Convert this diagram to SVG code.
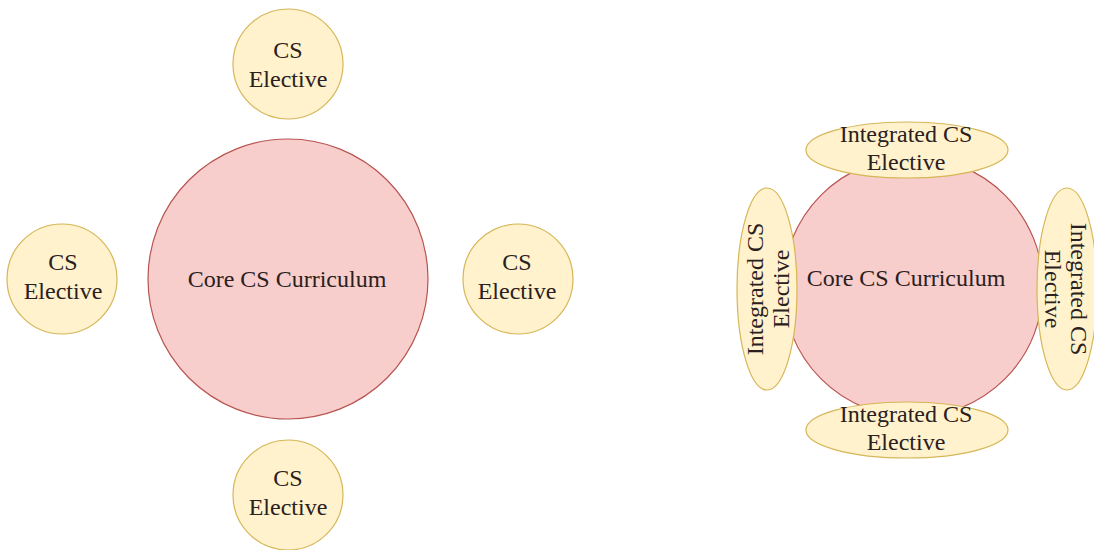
<svg xmlns="http://www.w3.org/2000/svg" width="1094" height="550" viewBox="0 0 1094 550">
<style>
.core{fill:#f8cecc;stroke:#b85450;stroke-width:1.2}
.el{fill:#fff2cc;stroke:#d6b656;stroke-width:1.2}
text{font-family:"Liberation Serif","Times New Roman",serif;font-size:24px;fill:#2a2020;text-anchor:middle}
</style>
<rect width="1094" height="550" fill="#fff"/>
<g id="core-left"><circle class="core" cx="288" cy="279" r="140"/><text x="287" y="287">Core CS Curriculum</text></g>
<g id="el-top"><circle class="el" cx="288" cy="64" r="55"/><text x="288" y="58">CS</text><text x="288" y="87">Elective</text></g>
<g id="el-left"><circle class="el" cx="62" cy="279" r="55"/><text x="63" y="270">CS</text><text x="63" y="299">Elective</text></g>
<g id="el-right"><circle class="el" cx="518" cy="279" r="55"/><text x="517" y="270">CS</text><text x="517" y="299">Elective</text></g>
<g id="el-bottom"><circle class="el" cx="288" cy="495" r="55"/><text x="288" y="486">CS</text><text x="288" y="515">Elective</text></g>
<g id="core-right"><circle class="core" cx="913" cy="287" r="130"/><text x="906" y="286">Core CS Curriculum</text></g>
<g id="int-top"><ellipse class="el" cx="907" cy="150" rx="101" ry="28"/><text x="906" y="142">Integrated CS</text><text x="906" y="170">Elective</text></g>
<g id="int-bottom"><ellipse class="el" cx="907" cy="430" rx="101" ry="28"/><text x="906" y="422">Integrated CS</text><text x="906" y="450">Elective</text></g>
<g id="int-left"><ellipse class="el" cx="767" cy="289" rx="30" ry="101"/><g transform="translate(767,289) rotate(-90)"><text x="0" y="-4">Integrated CS</text><text x="0" y="22">Elective</text></g></g>
<g id="int-right"><ellipse class="el" cx="1067" cy="289" rx="30" ry="101"/><g transform="translate(1067,289) rotate(90)"><text x="0" y="-4">Integrated CS</text><text x="0" y="22">Elective</text></g></g>
<g id="connectors"/>
</svg>
